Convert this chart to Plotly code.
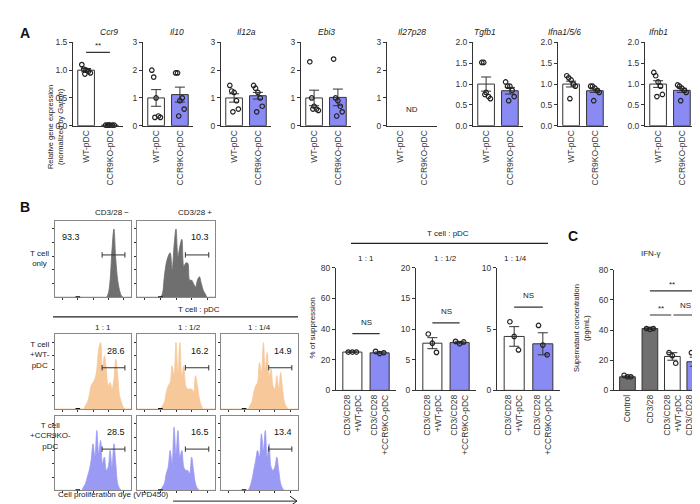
import plotly.graph_objects as go

W, H = 700, 504
FONT = "Liberation Sans"
KO_COL = "#8a8af5"
GREY = "#6f6f6f"
ORANGE = "#f7c99a"
BLUE = "#9a9af5"

# ---- panel A data ---------------------------------------------------------
genes = ["Ccr9", "Il10", "Il12a", "Ebi3", "Il27p28", "Tgfb1", "Ifna1/5/6", "Ifnb1"]
groups_a = ["WT-pDC", "CCR9KO-pDC"]
mean_wt = [1.0, 1.0, 1.0, 1.0, None, 1.0, 1.0, 1.0]
mean_ko = [0.01, 1.12, 1.08, 1.02, None, 0.84, 0.84, 0.85]
sem_wt = [0.03, 0.3, 0.15, 0.28, None, 0.17, 0.07, 0.08]
sem_ko = [0.005, 0.27, 0.12, 0.3, None, 0.08, 0.04, 0.05]
pts_wt = [
  [1.1, 1.02, 1.0, 0.98, 0.95, 0.93],
  [2.0, 1.75, 1.0, 0.35, 0.3, 0.3],
  [1.45, 1.25, 1.2, 0.9, 0.6, 0.5],
  [2.3, 1.0, 0.7, 0.6, 0.55, 0.6],
  [],
  [1.52, 1.52, 0.8, 0.7, 0.65, 0.75],
  [1.2, 1.15, 1.1, 1.0, 0.95, 0.65],
  [1.28, 1.2, 1.05, 0.95, 0.75, 0.7],
]
pts_ko = [
  [0.01, 0.01, 0.01, 0.01, 0.01, 0.01],
  [1.9, 1.9, 0.9, 1.0, 0.6, 0.35],
  [1.45, 1.35, 1.2, 1.0, 0.7, 0.5],
  [2.4, 1.0, 0.9, 0.7, 0.5, 0.35],
  [],
  [1.05, 0.95, 0.95, 0.85, 0.7, 0.6],
  [0.95, 0.95, 0.9, 0.85, 0.8, 0.6],
  [0.98, 0.95, 0.9, 0.85, 0.8, 0.6],
]
ymax_a = [1.5, 3, 3, 3, 3, 2, 2, 2]
ydtick_a = [0.5, 1, 1, 1, 1, 0.5, 0.5, 0.5]

# ---- panel B suppression data ---------------------------------------------
ratios = ["1 : 1", "1 : 1/2", "1 : 1/4"]
groups_b = ["CD3/CD28<br>+WT-pDC", "CD3/CD28<br>+CCR9KO-pDC"]
supp_wt = [25.0, 7.7, 4.4]
supp_ko = [24.5, 7.8, 3.8]
supp_sem_wt = [0.2, 0.9, 0.8]
supp_sem_ko = [0.6, 0.2, 0.9]
supp_pts_wt = [[25, 25, 25], [9.2, 7.7, 6.2], [5.6, 4.4, 3.3]]
supp_pts_ko = [[25.5, 24, 24.5], [8.0, 7.6, 7.9], [5.3, 3.7, 2.9]]
supp_ymax = [80, 20, 10]
supp_dtick = [20, 5, 5]
supp_ns = [37, 11, 6.8]

# ---- panel C data ---------------------------------------------------------
groups_c = ["Control", "CD3/28", "CD3/CD28<br>+WT-pDC", "CD3/CD28<br>+CCR9KO-pDC"]
ifng = [9.0, 41.0, 22.5, 19.0]
ifng_sem = [0.5, 0.5, 2.5, 3.0]
ifng_pts = [[10, 9, 9], [41, 40.5, 41], [25, 23, 18], [25, 18, 18]]

# ---- histograms (41 bins across each box) --------------------------------
def pad(start, vals):
    return [0] * start + vals + [0] * (41 - start - len(vals))

hist_only = [
  pad(28, [0.05, 0.25, 0.7, 1.0, 0.55, 0.25, 0.1, 0.02]),
  pad(13, [0.05, 0.3, 0.5, 0.6, 0.65, 0.4, 0.75, 1.0, 0.6, 0.75, 0.85, 0.45, 0.5, 0.5,
           0.25, 0.25, 0.2, 0.15, 0.25, 0.3, 0.2, 0.1, 0.05]),
]
hist_only_pct = ["93.3", "10.3"]
hist_wt = [
  pad(16, [0.05, 0.1, 0.2, 0.35, 0.4, 0.45, 0.6, 0.9, 1.0, 0.6, 0.8, 0.6, 0.35, 0.4, 0.3,
           0.45, 0.75, 0.5, 0.2, 0.1, 0.02]),
  pad(13, [0.05, 0.1, 0.25, 0.35, 0.4, 0.65, 0.5, 1.0, 0.55, 1.0, 0.5, 0.65, 0.35, 0.3,
           0.3, 0.3, 0.25, 0.5, 0.35, 0.15, 0.05]),
  pad(15, [0.05, 0.1, 0.25, 0.35, 0.4, 0.7, 0.55, 1.0, 0.6, 0.85, 0.5, 0.6, 0.35, 0.3,
           0.5, 0.3, 0.55, 0.3, 0.1, 0.03]),
]
hist_wt_pct = ["28.6", "16.2", "14.9"]
hist_ko = [
  pad(15, [0.05, 0.1, 0.2, 0.3, 0.45, 0.7, 0.5, 0.9, 0.55, 0.75, 0.4, 0.5, 0.3, 0.35,
           0.6, 0.35, 0.7, 0.4, 0.1, 0.03]),
  pad(13, [0.05, 0.1, 0.25, 0.35, 0.6, 0.4, 0.95, 0.55, 0.9, 0.5, 0.6, 0.35, 0.3, 0.3,
           0.25, 0.5, 0.3, 0.1, 0.03]),
  pad(15, [0.05, 0.15, 0.3, 0.45, 0.6, 0.5, 0.85, 0.6, 0.9, 0.5, 0.7, 0.35, 0.3, 0.35,
           0.5, 0.3, 0.1, 0.03]),
]
hist_ko_pct = ["28.5", "16.5", "13.4"]
bins = [i / 40 for i in range(41)]

fig = go.Figure()
layout = {}
annots = []
shapes = []
n = [0]

def new_axes(x0, x1, y0, y1, xr, yr, **kw):
    n[0] += 1
    k = n[0]
    axis = dict(showline=True, linecolor="#333", linewidth=1, ticks="outside",
                ticklen=3, tickcolor="#333", tickfont=dict(size=8.5, color="#333"),
                showgrid=False, zeroline=False)
    layout[f"xaxis{k}"] = dict(axis, domain=[x0 / W, x1 / W], range=xr,
                               anchor=f"y{k}", **kw.get("xa", {}))
    layout[f"yaxis{k}"] = dict(axis, domain=[1 - y1 / H, 1 - y0 / H], range=yr,
                               anchor=f"x{k}", **kw.get("ya", {}))
    return f"x{k}", f"y{k}"

def bar_group(xa, ya, means, sems, pts, colors, dxs):
    fig.add_trace(go.Bar(x=list(range(len(means))), y=means, width=0.7,
                         marker=dict(color=colors, line=dict(color="#333", width=1)),
                         error_y=dict(type="data", array=sems, color="#333", thickness=1, width=5),
                         xaxis=xa, yaxis=ya, showlegend=False))
    for i, p in enumerate(pts):
        fig.add_trace(go.Scatter(x=[i + dxs[j % len(dxs)] for j in range(len(p))], y=p,
                                 mode="markers",
                                 marker=dict(symbol="circle-open", size=4.5, color="#222",
                                             line=dict(width=1.2)),
                                 xaxis=xa, yaxis=ya, showlegend=False, cliponaxis=False))

def sig(xa, ya, xs, y, txt, dy):
    shapes.append(dict(type="line", xref=xa, yref=ya, x0=xs[0], x1=xs[1], y0=y, y1=y,
                       line=dict(color="#333", width=1.2)))
    annots.append(dict(xref=xa, yref=ya, x=(xs[0] + xs[1]) / 2, y=y + dy, text=txt,
                       showarrow=False, font=dict(size=8, color="#222"), yanchor="bottom"))

def panel_label(x, y, t):
    annots.append(dict(xref="paper", yref="paper", x=x / W, y=1 - y / H, text=f"<b>{t}</b>",
                       showarrow=False, font=dict(size=14, color="#111")))

def txt(x, y, t, size=8, angle=0, **kw):
    annots.append(dict(xref="paper", yref="paper", x=x / W, y=1 - y / H, text=t,
                       showarrow=False, textangle=angle, font=dict(size=size, color="#222"), **kw))

def pline(x0, y0, x1, y1, w=1.2):
    shapes.append(dict(type="line", xref="paper", yref="paper", x0=x0 / W, x1=x1 / W,
                       y0=1 - y0 / H, y1=1 - y1 / H, line=dict(color="#222", width=w)))

# ---- panel A ---------------------------------------------------------------
lefts = [65, 135, 213, 293, 379, 465, 550, 637]
dx6 = [-0.18, -0.1, 0.0, 0.1, 0.18, -0.05]
for g in range(8):
    xa, ya = new_axes(lefts[g], lefts[g] + 50, 30, 115, [-0.55, 1.55], [0, ymax_a[g]],
                      xa=dict(tickvals=[0, 1], ticktext=groups_a, tickangle=-90, ticks=""),
                      ya=dict(dtick=ydtick_a[g], tickformat=".1f" if ydtick_a[g] < 1 else "d"))
    if mean_wt[g] is not None:
        bar_group(xa, ya, [mean_wt[g], mean_ko[g]], [sem_wt[g], sem_ko[g]],
                  [pts_wt[g], pts_ko[g]], ["white", KO_COL], dx6)
    else:
        fig.add_trace(go.Scatter(x=[0, 1], y=[None, None], xaxis=xa, yaxis=ya, showlegend=False))
        annots.append(dict(xref=xa, yref=ya, x=0.5, y=0.6, text="ND", showarrow=False,
                           font=dict(size=8, color="#222")))
    txt(lefts[g] + 25, 12, f"<i>{genes[g]}</i>", size=8.5)
sig("x1", "y1", [0, 1], 1.32, "**", 0.0)
txt(36, 72, "Relative gene expression<br>(normalized by <i>Gapdh</i>)", size=7.5, angle=-90)
panel_label(10, 10, "A")

# ---- panel B histograms ----------------------------------------------------
def hist_box(x0, x1, y0, y1, vals, color, pct, pct_left):
    xa, ya = new_axes(x0, x1, y0, y1, [0, 1], [0, 1.12],
                      xa=dict(mirror=True, showticklabels=False, tickvals=[0.1, 0.3, 0.5, 0.7, 0.9],
                              ticklen=2, linecolor="#888"),
                      ya=dict(mirror=True, showticklabels=False, tickvals=[0.2, 0.4, 0.6, 0.8, 1.0],
                              ticklen=2, linecolor="#888"))
    fig.add_trace(go.Scatter(x=bins, y=vals, mode="lines", fill="tozeroy", fillcolor=color,
                             line=dict(color=color, width=0.8, shape="spline"),
                             xaxis=xa, yaxis=ya, showlegend=False))
    shapes.append(dict(type="line", xref=xa, yref=ya, x0=0.62, x1=0.92, y0=0.62, y1=0.62,
                       line=dict(color="#333", width=1)))
    for e in (0.62, 0.92):
        shapes.append(dict(type="line", xref=xa, yref=ya, x0=e, x1=e, y0=0.58, y1=0.66,
                           line=dict(color="#333", width=1)))
    shapes.append(dict(type="line", xref=xa, yref=ya, x0=0.27, x1=0.33, y0=0.0, y1=0.0,
                       line=dict(color="#111", width=2)))
    annots.append(dict(xref=xa, yref=ya, x=0.06 if pct_left else 0.95, y=0.98, text=pct,
                       showarrow=False, xanchor="left" if pct_left else "right", yanchor="top",
                       font=dict(size=9, color="#111")))

hist_box(47, 123, 212, 290, hist_only[0], GREY, hist_only_pct[0], True)
hist_box(129, 207, 212, 290, hist_only[1], GREY, hist_only_pct[1], False)
txt(85, 204, "CD3/28 −")
txt(168, 204, "CD3/28 +")
txt(20, 250, "T cell<br>only")
txt(168, 302, "T cell : pDC")
pline(45, 310, 290, 310)
hx = [(47, 123), (129, 207), (213, 290)]
for i in range(3):
    txt((hx[i][0] + hx[i][1]) / 2, 321, ratios[i])
    hist_box(hx[i][0], hx[i][1], 328, 404, hist_wt[i], ORANGE, hist_wt_pct[i], False)
    hist_box(hx[i][0], hx[i][1], 411, 487, hist_ko[i], BLUE, hist_ko_pct[i], False)
txt(20, 366, "T cell<br>+WT-<br>pDC")
txt(20, 449, "T cell<br>+CCR9KO-<br>pDC")
txt(48, 498, "Cell proliferation dye (VPD450)", xanchor="left")
pline(165, 498, 289, 498, 1)
pline(282, 493, 289, 498, 1)
pline(282, 503, 289, 498, 1)
panel_label(10, 198, "B")

# ---- panel B suppression bars ----------------------------------------------
bx = [(328, 388), (408, 468), (489, 552)]
dx3 = [-0.15, 0.0, 0.15]
for i in range(3):
    xa, ya = new_axes(bx[i][0], bx[i][1], 260, 385, [-0.6, 1.6], [0, supp_ymax[i]],
                      xa=dict(tickvals=[0, 1], ticktext=groups_b, tickangle=-90, ticks=""),
                      ya=dict(dtick=supp_dtick[i]))
    bar_group(xa, ya, [supp_wt[i], supp_ko[i]], [supp_sem_wt[i], supp_sem_ko[i]],
              [supp_pts_wt[i], supp_pts_ko[i]], ["white", KO_COL], dx3)
    sig(xa, ya, [0, 1], supp_ns[i], "NS", supp_ymax[i] * 0.04)
    txt((bx[i][0] + bx[i][1]) / 2, 250, ratios[i])
txt(305, 322, "% of suppression", angle=-90)
txt(440, 225, "T cell : pDC")
pline(343, 235, 540, 235)

# ---- panel C ---------------------------------------------------------------
xa, ya = new_axes(606, 698, 262, 385, [-0.6, 3.5], [0, 80],
                  xa=dict(tickvals=[0, 1, 2, 3], ticktext=groups_c, tickangle=-90, ticks=""),
                  ya=dict(dtick=20))
bar_group(xa, ya, ifng, ifng_sem, ifng_pts, [GREY, GREY, "white", KO_COL], dx3)
sig(xa, ya, [1, 3], 66, "**", 0)
sig(xa, ya, [1, 1.95], 50, "**", 0)
sig(xa, ya, [2.05, 3.1], 50, "NS", 2)
txt(655, 245, "IFN-γ")
txt(585, 322, "Supernatant concentration<br>(pg/mL)", size=7.5, angle=-90)
panel_label(572, 228, "C")

fig.update_layout(**layout)
fig.update_layout(width=W, height=H, margin=dict(l=0, r=0, t=0, b=0), plot_bgcolor="white",
                  paper_bgcolor="white", font=dict(family=FONT, size=8, color="#222"),
                  annotations=annots, shapes=shapes, bargap=0.3)
fig.write_html("out.html")
